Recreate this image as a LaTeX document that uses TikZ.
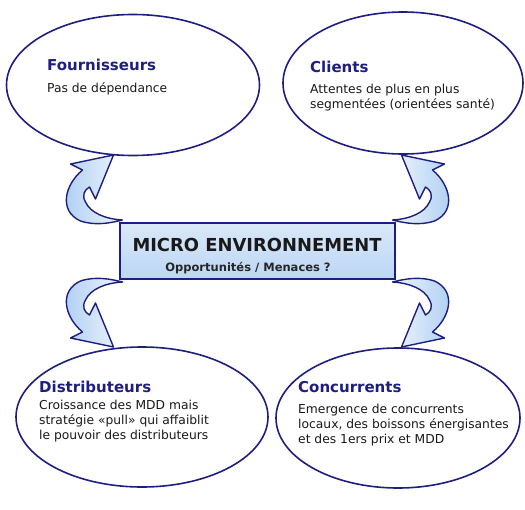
\documentclass[tikz,border=0pt]{standalone}
\usepackage{fontspec}
\setmainfont{DejaVu Sans}
\usepackage{tikz}
\usetikzlibrary{shapes,calc}
\definecolor{navy}{RGB}{30,30,128}
\definecolor{boxblue}{RGB}{188,214,244}
\definecolor{arrowblue}{RGB}{170,204,242}
\definecolor{arrowlight}{RGB}{238,245,253}
\definecolor{bodygray}{RGB}{25,25,25}
\tikzset{
  bubble/.style={ellipse, draw=navy, line width=1.6pt, fill=white, inner sep=0pt},
  headtxt/.style={anchor=base west, inner sep=0pt, text=navy, font=\bfseries\fontsize{15}{17}\selectfont},
  bodytxt/.style={anchor=north west, inner sep=0pt, align=left, text=bodygray, font=\fontsize{12.3}{15}\selectfont},
  curl/.style={draw=navy, line width=1.4pt, line join=round}
}
% curved block arrow, drawn round the centre of the box
\newcommand{\curlpath}{(-144,-96) -- (-187,-87) -- (-175,-81)
  .. controls (-193,-66) and (-199,-40) .. (-177,-30)
  .. controls (-162,-25) and (-147,-28) .. (-135,-31)
  .. controls (-152,-32) and (-167,-38) .. (-172,-49)
  .. controls (-176,-56) and (-173,-61) .. (-168,-64)
  -- (-162,-52) -- cycle}

\begin{document}
\begin{tikzpicture}[x=1pt, y=-1pt]
      \useasboundingbox (0,0) rectangle (525,509);
      \coordinate (mid) at (257.5,251);
      % the four bubbles
      \node[bubble, minimum width=253pt, minimum height=141pt] (fourn) at (133,85) {};
      \node[bubble, minimum width=240pt, minimum height=142pt] (clients) at (403,83) {};
      \node[bubble, minimum width=252pt, minimum height=140pt] (distrib) at (142,417) {};
      \node[bubble, minimum width=244pt, minimum height=140pt] (concur) at (398,418) {};
      % curved arrows between box and bubbles
      \foreach \sx/\sy/\lc/\rc in {1/1/arrowblue/arrowlight, -1/1/arrowlight/arrowblue, 1/-1/arrowblue/arrowlight, -1/-1/arrowlight/arrowblue}{
        \begin{scope}[shift={(mid)}, xscale=\sx, yscale=\sy]
          \draw[curl, left color=\lc, right color=\rc] \curlpath;
        \end{scope}
      }
      % centre box
      \node[rectangle, draw=navy, line width=1.3pt, top color=boxblue!55!white, bottom color=boxblue,
            minimum width=275pt, minimum height=56pt, inner sep=0pt] (micro) at (mid) {};
      \node[anchor=base, inner sep=0pt, text=black!90, font=\bfseries\fontsize{17.9}{20}\selectfont] (microtitle) at (257,251.5) {MICRO ENVIRONNEMENT};
      \node[anchor=base, inner sep=0pt, text=black!85, font=\bfseries\fontsize{11.5}{13}\selectfont] (microsub) at (248,271.5) {Opportunités / Menaces ?};
      % texts in the bubbles
      \node[headtxt] (fourntitle) at (47,70) {Fournisseurs};
      \node[bodytxt] (fourntext) at (47,82.5) {Pas de dépendance};
      \node[headtxt] (clientstitle) at (310,72) {Clients};
      \node[bodytxt] (clientstext) at (310,83.5) {Attentes de plus en plus\\segmentées (orientées santé)};
      \node[headtxt] (distribtitle) at (39,392) {Distributeurs};
      \node[bodytxt] (distribtext) at (39,399.5) {Croissance des MDD mais\\stratégie «pull» qui affaiblit\\le pouvoir des distributeurs};
      \node[headtxt] (concurtitle) at (298,392) {Concurrents};
      \node[bodytxt] (concurtext) at (298,403.5) {Emergence de concurrents\\locaux, des boissons énergisantes\\et des 1ers prix et MDD};
    \end{tikzpicture}
\end{document}
